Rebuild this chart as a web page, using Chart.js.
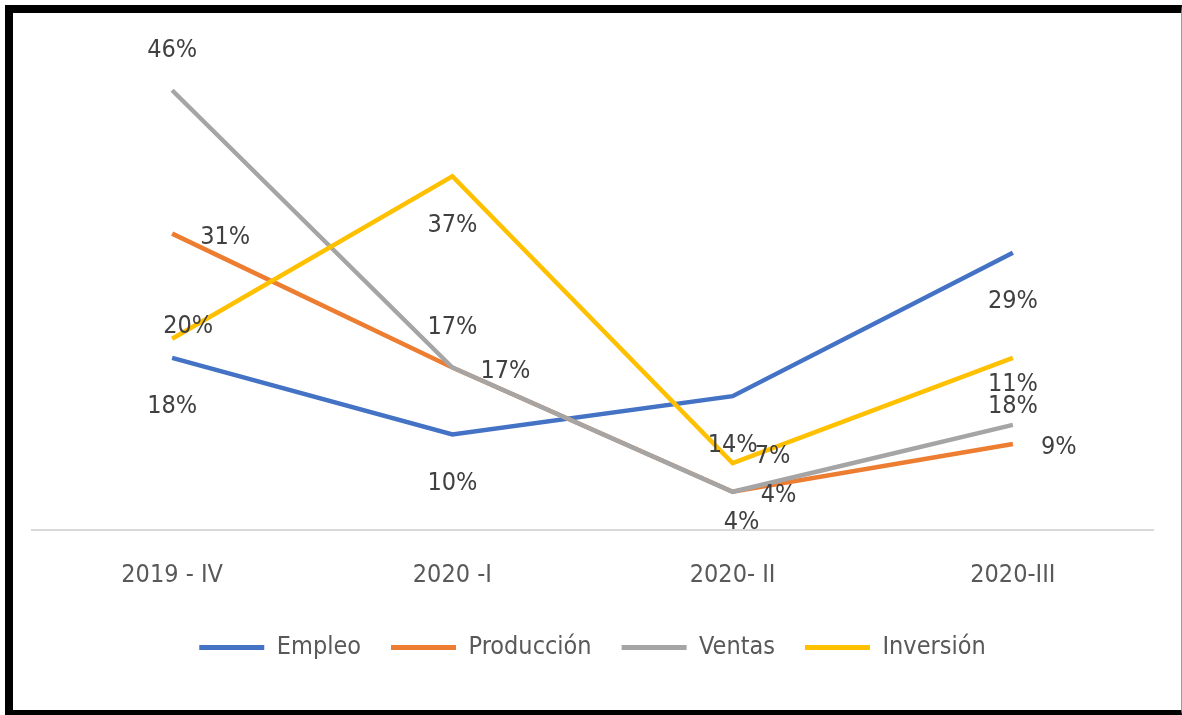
<!DOCTYPE html>
<html>
<head>
<meta charset="utf-8">
<script src="https://cdn.jsdelivr.net/npm/chart.js@4/dist/chart.umd.min.js"></script>
<style>
  html, body { margin: 0; padding: 0; background: #fff; }
  #wrap { position: relative; width: 1182px; height: 715px; overflow: hidden; }
  #chart { position: absolute; left: 0; top: 0; }
  #frame {
    position: absolute; left: 5px; top: 5px; width: 1177px; height: 710px;
    box-sizing: border-box; pointer-events: none;
    border-left: 8px solid #000; border-top: 8px solid #000;
    border-bottom: 5px solid #000; border-right: 1px solid #9a9a9a;
  }
</style>
</head>
<body>
<div id="wrap">
  <canvas id="chart" width="1182" height="715"></canvas>
  <div id="frame"></div>
</div>
<script>
// quarterly change by indicator
const categories = ['2019 - IV', '2020 -I', '2020- II', '2020-III'];
const empleo = [18, 10, 14, 29];
const produccion = [31, 17, 4, 9];
const ventas = [46, 17, 4, 11];
const inversion = [20, 37, 7, 18];

const seriesNames = ['Empleo', 'Producción', 'Ventas', 'Inversión'];
const seriesColors = ['#4472C4', '#ED7D31', '#A5A5A5', '#FFC000'];

const FONT = "'Liberation Sans Narrow', 'DejaVu Sans Condensed', 'Open Sans', sans-serif";
const FONT_SIZE = 25;

// where each value label sits relative to its point
const labelPlace = [
  ['below', 'below', 'below', 'below'],
  ['right', 'right', 'right', 'right'],
  ['above', 'above', 'under', 'above'],
  ['nearLeft', 'below', 'nearRight', 'below']
];
const placeOffsets = {
  below: { dx: 0, dy: 49, align: 'center' },
  above: { dx: 0, dy: -40, align: 'center' },
  right: { dx: 28, dy: 4, align: 'left' },
  under: { dx: 9, dy: 31, align: 'center' },
  nearLeft: { dx: 16, dy: -12, align: 'center' },
  nearRight: { dx: 22, dy: -7, align: 'left' }
};

const pointLabels = {
  id: 'pointLabels',
  afterDatasetsDraw(chart) {
    const ctx = chart.ctx;
    ctx.save();
    ctx.font = FONT_SIZE + 'px ' + FONT;
    ctx.fillStyle = '#404040';
    ctx.textBaseline = 'middle';
    chart.data.datasets.forEach((ds, i) => {
      const meta = chart.getDatasetMeta(i);
      meta.data.forEach((pt, j) => {
        const off = placeOffsets[labelPlace[i][j]];
        ctx.textAlign = off.align;
        ctx.fillText(ds.data[j] + '%', pt.x + off.dx, pt.y + off.dy);
      });
    });
    ctx.restore();
  }
};

const seriesData = [empleo, produccion, ventas, inversion];
const datasets = seriesNames.map((name, i) => ({
  label: name,
  data: seriesData[i],
  borderColor: seriesColors[i],
  backgroundColor: seriesColors[i],
  borderWidth: 4.5,
  pointRadius: 0,
  tension: 0,
  order: 4 - i // later series drawn on top, like the original
}));

new Chart(document.getElementById('chart'), {
  type: 'line',
  data: { labels: categories, datasets: datasets },
  plugins: [pointLabels],
  options: {
    responsive: false,
    animation: false,
    devicePixelRatio: 1,
    layout: { padding: { left: 32, right: 29, top: 52, bottom: 45 } },
    plugins: {
      tooltip: { enabled: false },
      legend: {
        position: 'bottom',
        labels: {
          color: '#595959',
          font: { family: FONT, size: FONT_SIZE },
          boxWidth: 65,
          boxHeight: 5,
          padding: 30,
          generateLabels(chart) {
            return chart.data.datasets.map((ds, i) => ({
              text: ds.label,
              fillStyle: ds.borderColor,
              strokeStyle: ds.borderColor,
              lineWidth: 0,
              fontColor: '#595959',
              datasetIndex: i
            }));
          }
        }
      }
    },
    scales: {
      x: {
        offset: true,
        grid: { display: false },
        border: { display: true, color: '#D9D9D9', width: 2 },
        ticks: { color: '#595959', font: { family: FONT, size: FONT_SIZE }, padding: 22 },
        afterFit(scale) { scale.height = 75; }
      },
      y: {
        display: false,
        min: 0,
        max: 50
      }
    }
  }
});
</script>
</body>
</html>
